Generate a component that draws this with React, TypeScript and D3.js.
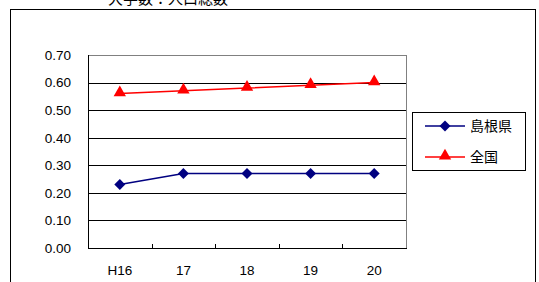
import React from "react";
import * as d3 from "d3";

const categories = ["H16", "17", "18", "19", "20"];
const shimane = [0.23, 0.27, 0.27, 0.27, 0.27];
const zenkoku = [0.56, 0.57, 0.58, 0.59, 0.6];
const yTicks = [0, 0.1, 0.2, 0.3, 0.4, 0.5, 0.6, 0.7];

const W = 539;
const H = 282;
const plot = { left: 88, right: 406, top: 55, bottom: 248 };
const numFont = "'Liberation Sans', Arial, sans-serif";
const jpFont = "'Noto Sans CJK JP', sans-serif";

export default function App() {
  const x = d3
    .scaleBand<string>()
    .domain(categories)
    .range([plot.left, plot.right]);
  const y = d3.scaleLinear().domain([0, 0.7]).range([plot.bottom, plot.top]);
  const cx = (c: string) => (x(c) as number) + x.bandwidth() / 2;

  const line = d3
    .line<number>()
    .x((_, i) => cx(categories[i]))
    .y((d) => y(d));

  // square diamond (rotated square), like the spreadsheet marker
  const diamond = d3.symbol(d3.symbolSquare, 60)();
  const triangle = d3.symbol(d3.symbolTriangle, 66)();

  const boundaries = categories.slice(1).map((c) => x(c) as number);

  return (
    <svg
      width={W}
      height={H}
      style={{ position: "absolute", left: 0, top: 0, background: "#fff" }}
    >
      {/* title, clipped at top as in the source */}
      <text
        x={168}
        y={4}
        textAnchor="middle"
        fontFamily={jpFont}
        fontSize={15}
        fill="#000"
      >
        大学数：人口総数
      </text>
      {/* outer frame */}
      <rect
        x={10.5}
        y={9.5}
        width={525}
        height={290}
        fill="none"
        stroke="#000"
        strokeWidth={1}
      />

      {/* gridlines */}
      {yTicks.slice(1).map((t) => (
        <line
          key={t}
          x1={plot.left}
          x2={plot.right}
          y1={Math.round(y(t)) + 0.5}
          y2={Math.round(y(t)) + 0.5}
          stroke="#000"
          strokeWidth={1}
        />
      ))}
      {/* plot border */}
      <rect
        x={plot.left + 0.5}
        y={plot.top + 0.5}
        width={plot.right - plot.left}
        height={plot.bottom - plot.top}
        fill="none"
        stroke="#808080"
        strokeWidth={1}
      />
      {/* axes */}
      <line
        x1={plot.left + 0.5}
        x2={plot.left + 0.5}
        y1={plot.top}
        y2={plot.bottom + 1}
        stroke="#000"
      />
      <line
        x1={plot.left}
        x2={plot.right + 1}
        y1={plot.bottom + 0.5}
        y2={plot.bottom + 0.5}
        stroke="#000"
      />
      {boundaries.map((b) => (
        <line
          key={b}
          x1={Math.round(b) + 0.5}
          x2={Math.round(b) + 0.5}
          y1={plot.bottom - 4}
          y2={plot.bottom}
          stroke="#000"
        />
      ))}

      {/* y tick labels */}
      {yTicks.map((t) => (
        <text
          key={t}
          x={71}
          y={y(t)}
          dy="0.36em"
          textAnchor="end"
          fontFamily={numFont}
          fontSize={13.5}
          fill="#000"
        >
          {t.toFixed(2)}
        </text>
      ))}
      {/* x labels */}
      {categories.map((c) => (
        <text
          key={c}
          x={cx(c)}
          y={275}
          textAnchor="middle"
          fontFamily={numFont}
          fontSize={13.5}
          fill="#000"
        >
          {c}
        </text>
      ))}

      {/* series */}
      <path d={line(zenkoku) || ""} fill="none" stroke="#FF0000" strokeWidth={1.5} />
      {zenkoku.map((v, i) => (
        <path
          key={i}
          d={triangle || ""}
          transform={`translate(${cx(categories[i])},${y(v) - 1})`}
          fill="#FF0000"
        />
      ))}
      <path d={line(shimane) || ""} fill="none" stroke="#000080" strokeWidth={1.5} />
      {shimane.map((v, i) => (
        <path
          key={i}
          d={diamond || ""}
          transform={`translate(${cx(categories[i])},${y(v)}) rotate(45)`}
          fill="#000080"
        />
      ))}

      {/* legend */}
      <rect
        x={412.5}
        y={112.5}
        width={113}
        height={58}
        fill="#fff"
        stroke="#000"
      />
      <line x1={425} x2={465} y1={126} y2={126} stroke="#000080" strokeWidth={1.5} />
      <path d={diamond || ""} transform="translate(445,126) rotate(45)" fill="#000080" />
      <text x={470} y={126} dy="0.36em" fontFamily={jpFont} fontSize={14} fill="#000">
        島根県
      </text>
      <line x1={425} x2={465} y1={157} y2={157} stroke="#FF0000" strokeWidth={1.5} />
      <path d={triangle || ""} transform="translate(445,156)" fill="#FF0000" />
      <text x={470} y={157} dy="0.36em" fontFamily={jpFont} fontSize={14} fill="#000">
        全国
      </text>
    </svg>
  );
}
